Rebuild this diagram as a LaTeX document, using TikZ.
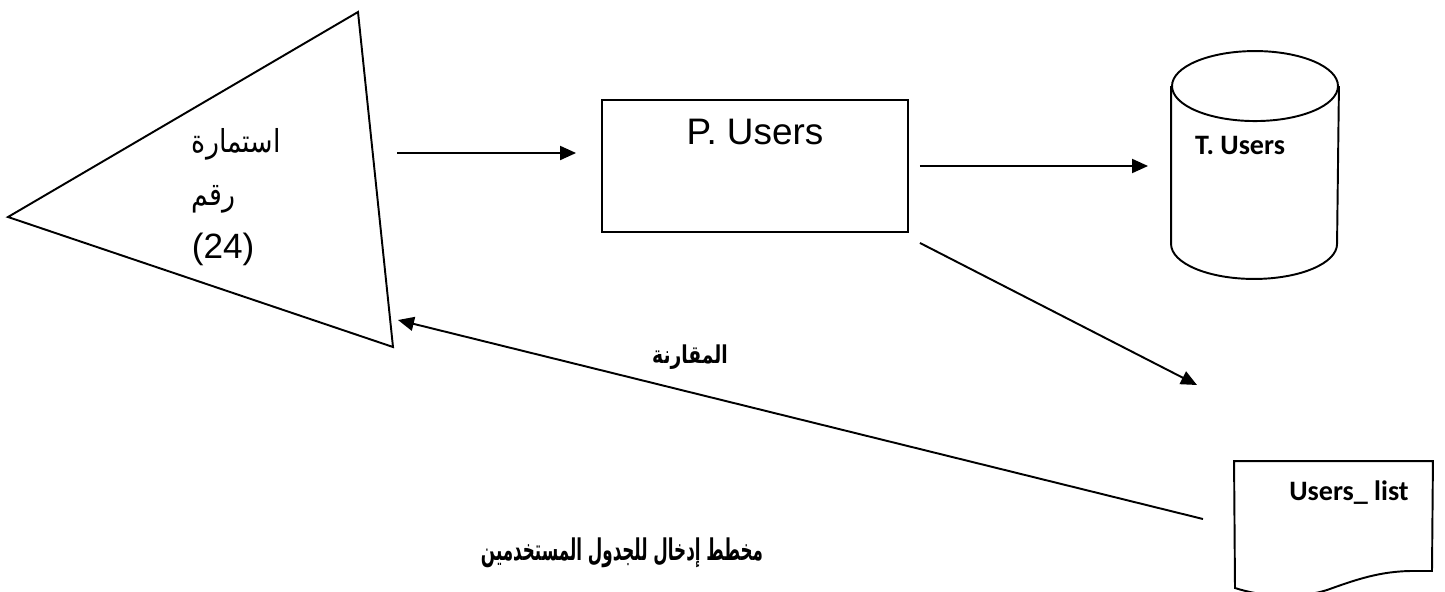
\documentclass[tikz,border=0pt]{standalone}
\usepackage{fontspec}
\usepackage{graphicx}
\setmainfont{Liberation Sans}
\newfontfamily\calfont{Carlito}
\newfontfamily\arabicfont[Script=Arabic]{DejaVu Sans}
\TeXXeTstate=1
\usepackage{tikz}
\usetikzlibrary{arrows.meta, positioning}

% نص عربي مضغوط أفقيا
\newcommand{\arabtxt}[2][1]{\scalebox{#1}[1]{\arabicfont\beginR #2\endR}}

\tikzset{
  flow/.style={line width=1.1pt, -{Triangle[length=0.32cm, width=0.28cm]}},
  procbox/.style={draw, line width=1.1pt, minimum width=6.12cm, minimum height=2.64cm},
  calname/.style={font=\calfont\bfseries\fontsize{16}{19}\selectfont},
}

\begin{document}
\begin{tikzpicture}[x=0.02cm, y=0.02cm, line width=1.1pt]
    \useasboundingbox (0,0) rectangle (1445,-592);

    % الاستمارة
    \coordinate (formL) at (8,-217);
    \coordinate (formT) at (358,-12);
    \coordinate (formB) at (393,-347);
    \draw (formL) -- (formT) -- (formB) -- cycle;
    \node[anchor=north west, align=left, inner sep=0, font=\fontsize{20}{30}\selectfont] (formtext) at (191,-128)
        {{\fontsize{18}{30}\selectfont\arabtxt[0.85]{استمارة}}\\{\fontsize{18}{30}\selectfont\arabtxt[0.85]{رقم}}\\(24)};

    % المعالجة
    \node[procbox] (proc) at (755,-166) {};
    \node[font=\fontsize{21}{25}\selectfont] (procname) at (755,-132) {P. Users};

    % الجدول
    \node[minimum width=3.32cm, minimum height=4.52cm, inner sep=0] (tbl) at (1255,-165) {};
    \draw (tbl.north) ++(0,-35) ellipse [x radius=83, y radius=35];
    \draw ([yshift=-0.7cm]tbl.north west) -- ([yshift=0.7cm]tbl.south west)
        arc [start angle=180, end angle=360, x radius=83, y radius=35] -- ([yshift=-0.7cm]tbl.north east);
    \node[calname] (tblname) at (1240,-145) {T. Users};

    % القائمة
    \node[minimum width=3.94cm, minimum height=2.6cm, inner sep=0] (ulist) at (1333.5,-527) {};
    \draw (ulist.north west) -- (ulist.north east) -- (1432,-571) -- (1413,-571)
        .. controls (1380,-571) and (1355,-580) .. (1327,-590)
        .. controls (1295,-600) and (1260,-596) .. (1235,-588) -- cycle;
    \node[calname] (listname) at (1349,-493) {Users\_ list};

    % الأسهم
    \coordinate (a1) at (397,-153);
    \draw[flow] (a1) -- ([xshift=-0.5cm]a1 -| proc.west);
    \draw[flow] ([xshift=0.22cm]proc.east) -- ([xshift=-0.46cm]proc.east -| tbl.west);
    \coordinate (a3s) at ([shift={(0.22cm,-0.2cm)}]proc.south east);
    \coordinate (a3e) at (1197,-385);
    \draw[flow] (a3s) -- (a3e);
    \coordinate (cmp) at (1203,-519);
    \coordinate (formIn) at (398,-320);
    \draw[flow] (cmp) -- (formIn);

    \node[font=\bfseries\fontsize{14}{17}\selectfont] (cmplabel) at (690,-357) {\arabtxt[0.76]{المقارنة}};
    \node[font=\bfseries\fontsize{17}{21}\selectfont] (title) at (622,-553) {\arabtxt[0.56]{مخطط إدخال للجدول المستخدمين}};
\end{tikzpicture}
\end{document}
